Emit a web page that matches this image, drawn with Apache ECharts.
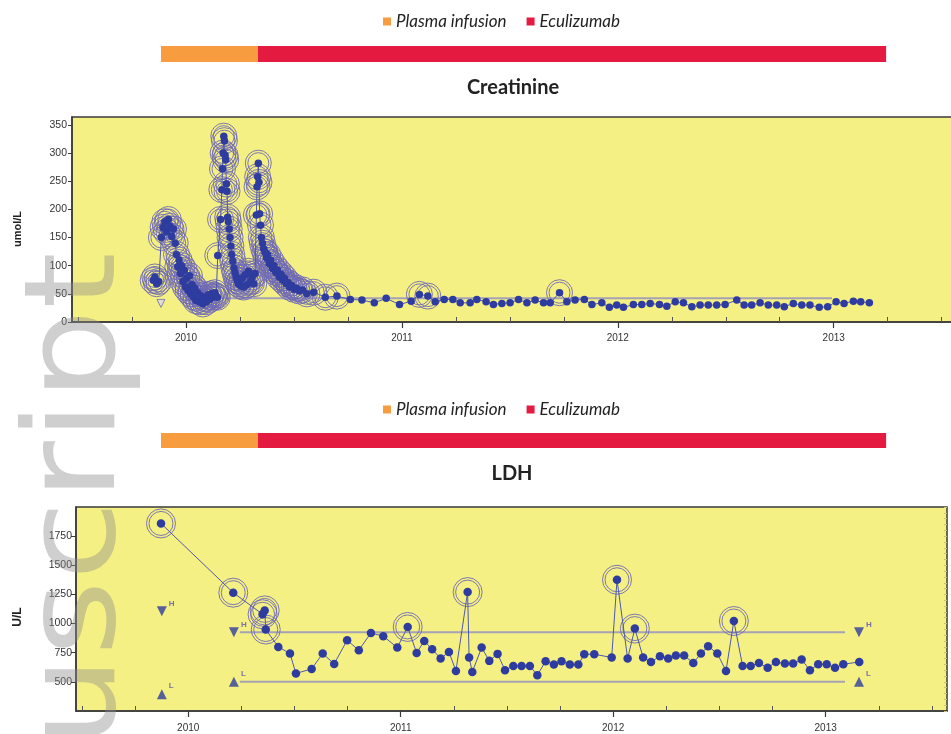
<!DOCTYPE html>
<html><head><meta charset="utf-8">
<script src="https://cdn.jsdelivr.net/npm/echarts@6/dist/echarts.min.js"></script>
<style>html,body{margin:0;padding:0;background:#fff}#c{width:951px;height:734px}</style>
</head><body><div id="c"></div>
<script>
// ---------- data ----------
const treatNames = ['Plasma infusion', 'Eculizumab'];
const treatColors = ['#f89d3f', '#e51a40'];
const treatStart = [2009.884, 2010.333];
const treatEnd = [2010.333, 2013.241];

const xMin = 2009.472, xMax = 2013.571;
const xYearTicks = [2010, 2011, 2012, 2013];
const xQuarterTicks = [2009.5, 2009.75, 2010.25, 2010.5, 2010.75, 2011.25, 2011.5, 2011.75,
  2012.25, 2012.5, 2012.75, 2013.25, 2013.5];
const creatTicks = [0, 50, 100, 150, 200, 250, 300, 350];
const ldhTicks = [500, 750, 1000, 1250, 1500, 1750];

// Creatinine (umol/L): [decimal year, value]
const creatinine = [
  [2009.848,74],[2009.856,80],[2009.864,68],[2009.874,72],[2009.886,150],[2009.894,168],[2009.902,178],
  [2009.910,160],[2009.918,182],[2009.926,170],[2009.934,152],[2009.942,165],[2009.950,140],[2009.956,120],
  [2009.962,98],[2009.968,110],[2009.974,86],[2009.980,100],[2009.986,72],[2009.992,92],[2009.998,62],
  [2010.004,78],[2010.010,56],[2010.016,82],[2010.022,50],[2010.028,66],[2010.034,45],[2010.040,60],
  [2010.046,38],[2010.054,52],[2010.062,36],[2010.070,46],[2010.078,32],[2010.086,42],[2010.094,36],
  [2010.102,48],[2010.110,40],[2010.118,50],[2010.126,44],[2010.134,52],[2010.140,46],[2010.145,44],
  [2010.147,118],[2010.160,182],[2010.166,235],[2010.169,272],[2010.172,300],[2010.175,330],[2010.178,322],
  [2010.181,296],[2010.184,288],[2010.187,245],[2010.190,232],[2010.193,186],[2010.196,178],[2010.200,165],
  [2010.204,150],[2010.208,135],[2010.212,120],[2010.217,108],[2010.222,96],[2010.227,88],[2010.232,80],
  [2010.237,74],[2010.242,68],[2010.248,72],[2010.254,64],[2010.260,78],[2010.267,62],[2010.274,84],
  [2010.282,66],[2010.290,90],[2010.298,72],[2010.306,80],[2010.314,68],[2010.320,86],
  [2010.326,190],[2010.329,240],[2010.332,258],[2010.335,282],[2010.338,248],[2010.341,192],[2010.345,172],
  [2010.349,150],[2010.354,140],[2010.360,130],[2010.366,124],[2010.372,114],[2010.378,120],[2010.385,104],
  [2010.392,110],[2010.400,95],[2010.408,100],[2010.416,88],[2010.424,92],[2010.432,80],[2010.440,85],
  [2010.448,74],[2010.456,78],[2010.464,68],[2010.472,70],[2010.480,62],[2010.490,65],[2010.500,58],
  [2010.512,60],[2010.525,55],[2010.540,57],[2010.560,50],
  [2010.591,53],[2010.645,44],[2010.699,46],[2010.761,40],[2010.815,39],[2010.872,34],[2010.927,42],
  [2010.989,31],[2011.043,37],[2011.081,49],[2011.120,46],[2011.154,36],[2011.196,40],[2011.236,40],
  [2011.270,34],[2011.316,34],[2011.347,40],[2011.390,36],[2011.424,31],[2011.463,33],[2011.501,34],
  [2011.540,40],[2011.579,34],[2011.617,39],[2011.656,34],[2011.687,34],[2011.730,52],[2011.764,36],
  [2011.802,39],[2011.845,40],[2011.880,31],[2011.926,34],[2011.961,26],[2011.995,30],[2012.026,26],
  [2012.072,31],[2012.111,31],[2012.150,33],[2012.193,31],[2012.227,28],[2012.266,36],[2012.304,34],
  [2012.343,27],[2012.381,30],[2012.419,30],[2012.458,30],[2012.497,31],[2012.551,39],[2012.585,30],
  [2012.620,30],[2012.659,34],[2012.697,30],[2012.736,30],[2012.771,27],[2012.813,33],[2012.852,30],
  [2012.890,30],[2012.933,26],[2012.972,27],[2013.011,36],[2013.048,33],[2013.091,37],[2013.125,36],
  [2013.165,34]
];
const creatRefH = [[2010.144, 42], [2012.992, 42]];
const creatMarkH = [[2009.884, 33]];

// LDH (U/L): [decimal year, value]
const ldh = [
  [2009.872,1859],[2010.212,1265],[2010.350,1080],[2010.360,1113],[2010.365,949],[2010.424,800],
  [2010.479,743],[2010.507,572],[2010.581,611],[2010.633,743],[2010.687,654],[2010.748,857],[2010.803,771],
  [2010.860,920],[2010.918,892],[2010.984,794],[2011.033,971],[2011.075,748],[2011.111,851],[2011.148,780],
  [2011.188,700],[2011.227,757],[2011.260,594],[2011.315,1270],[2011.322,709],[2011.337,585],[2011.381,794],
  [2011.417,680],[2011.456,740],[2011.491,600],[2011.530,637],[2011.569,637],[2011.608,637],[2011.643,557],
  [2011.682,677],[2011.721,648],[2011.757,677],[2011.796,648],[2011.836,648],[2011.864,737],[2011.911,737],
  [2011.993,709],[2012.018,1376],[2012.068,700],[2012.102,957],[2012.141,709],[2012.178,671],[2012.220,720],
  [2012.259,700],[2012.295,726],[2012.334,726],[2012.377,662],[2012.413,743],[2012.447,806],[2012.490,743],
  [2012.531,594],[2012.568,1022],[2012.609,637],[2012.647,637],[2012.686,662],[2012.727,620],[2012.766,671],
  [2012.808,657],[2012.847,657],[2012.887,691],[2012.926,600],[2012.965,651],[2013.005,651],[2013.044,620],
  [2013.083,651],[2013.158,671]
];
const ldhRefH = [[2010.243, 925], [2013.091, 925]];
const ldhRefL = [[2010.243, 500], [2013.091, 500]];
const ldhMarkH = [[2009.876, 1105], [2010.215, 925], [2013.157, 925]];
const ldhMarkL = [[2009.876, 394], [2010.215, 500], [2013.157, 500]];

// ---------- styles ----------
const YELLOW = '#f5f083';
const DOT = '#2e3c9f';
const LINE = '#4e58ad';
const RING = '#6f69b6';
const REF = '#a4a2b4';
const FRAME = '#3a3a3a';
const AXFONT = 'Liberation Sans';

const chart = echarts.init(document.getElementById('c'), null, {renderer: 'canvas'});

const grids = [
  {left: 72, top: 117, width: 885, height: 205, show: true, backgroundColor: YELLOW, borderColor: FRAME, borderWidth: 1.5, outerBoundsMode: 'none', containLabel: false},
  {left: 76, top: 507, width: 871, height: 204, show: true, backgroundColor: YELLOW, borderColor: FRAME, borderWidth: 1.5, outerBoundsMode: 'none', containLabel: false},
  {left: 72, top: 46, width: 885, height: 16, show: false, outerBoundsMode: 'none'},
  {left: 72, top: 433, width: 885, height: 15, show: false, outerBoundsMode: 'none'}
];

function majorX(grid) {
  return {type: 'value', gridIndex: grid, min: xMin, max: xMax, position: 'bottom',
    splitLine: {show: false},
    axisLine: {show: true, lineStyle: {color: FRAME, width: 1.5}},
    axisTick: {show: true, inside: false, length: 6, customValues: xYearTicks, lineStyle: {color: FRAME, width: 1.2}},
    axisLabel: {show: true, customValues: xYearTicks, margin: grid === 0 ? 11 : 12, fontSize: 10, fontFamily: AXFONT, color: '#333',
      formatter: v => String(Math.round(v))}};
}
function minorX(grid) {
  return {type: 'value', gridIndex: grid, min: xMin, max: xMax, position: 'bottom',
    splitLine: {show: false}, axisLine: {show: false},
    axisTick: {show: true, inside: true, length: 5, customValues: xQuarterTicks, lineStyle: {color: '#555', width: 1}},
    axisLabel: {show: false}};
}
function hiddenX(grid) {
  return {type: 'value', gridIndex: grid, min: xMin, max: xMin + 885 / 216, show: false};
}

const plainNum = v => String(v);
const xAxis = [majorX(0), minorX(0), majorX(1), minorX(1), hiddenX(2), hiddenX(3)];
const yAxis = [
  {type: 'value', gridIndex: 0, min: 0, max: 364, splitLine: {show: false},
    axisLine: {show: true, lineStyle: {color: FRAME, width: 1.5}},
    axisTick: {show: true, length: 4, customValues: creatTicks, lineStyle: {color: FRAME}},
    axisLabel: {customValues: creatTicks, margin: 5, fontSize: 10.5, fontFamily: AXFONT, color: '#333', formatter: plainNum}},
  {type: 'value', gridIndex: 0, min: 0, max: 364, interval: 7, splitLine: {show: false}, axisLine: {show: false},
    axisTick: {show: true, inside: true, length: 3, lineStyle: {color: '#c9c37a', width: 1}}, axisLabel: {show: false}},
  {type: 'value', gridIndex: 1, min: 250, max: 2000, splitLine: {show: false},
    axisLine: {show: true, lineStyle: {color: FRAME, width: 1.5}},
    axisTick: {show: true, length: 5, customValues: ldhTicks, lineStyle: {color: FRAME}},
    axisLabel: {customValues: ldhTicks, margin: 4, fontSize: 10.5, fontFamily: AXFONT, color: '#333', formatter: plainNum}},
  {type: 'value', gridIndex: 1, min: 250, max: 2000, interval: 50, splitLine: {show: false}, axisLine: {show: false},
    axisTick: {show: true, inside: true, length: 3, lineStyle: {color: '#c9c37a', width: 1}}, axisLabel: {show: false}},
  {type: 'value', gridIndex: 2, min: 0, max: 1, show: false},
  {type: 'value', gridIndex: 3, min: 0, max: 1, show: false}
];

function treatSeries(i, axisIdx) {
  return {
    type: 'custom', name: treatNames[i], xAxisIndex: axisIdx, yAxisIndex: axisIdx,
    itemStyle: {color: treatColors[i]}, encode: {x: [0, 1]},
    data: [[treatStart[i], treatEnd[i]]],
    renderItem: (params, api) => {
      const a = api.coord([api.value(0), 1]);
      const b = api.coord([api.value(1), 0]);
      return {type: 'rect', shape: {x: a[0], y: a[1], width: b[0] - a[0], height: b[1] - a[1]},
        style: {fill: treatColors[i]}};
    }
  };
}

function ringSeries(data, xi, yi, size) {
  return {type: 'scatter', xAxisIndex: xi, yAxisIndex: yi, data, symbol: 'circle', symbolSize: size, z: 3,
    silent: true, itemStyle: {color: 'rgba(0,0,0,0)', borderColor: RING, borderWidth: 1, opacity: 0.9}};
}

function markSeries(data, xi, yi, label, down) {
  return {type: 'scatter', xAxisIndex: xi, yAxisIndex: yi, data, symbol: 'triangle', symbolRotate: down ? 180 : 0,
    symbolSize: 10, z: 5, itemStyle: {color: DOT},
    label: {show: true, formatter: label, position: 'right', offset: [-3, -8], fontSize: 8, fontWeight: 'bold',
      color: '#5b4fb0', fontFamily: AXFONT}};
}

const creatRing = creatinine.filter(d => d[0] < 2010.58 || d[1] >= 43);
const ldhRing = ldh.filter(d => d[1] > 925);

const series = [
  treatSeries(0, 4), treatSeries(1, 4), treatSeries(0, 5), treatSeries(1, 5),
  // creatinine
  {type: 'line', xAxisIndex: 0, yAxisIndex: 0, data: creatRefH, symbol: 'none', z: 2,
    lineStyle: {color: REF, width: 2}},
  ringSeries(creatRing, 0, 0, 26), ringSeries(creatRing, 0, 0, 21),
  {type: 'line', xAxisIndex: 0, yAxisIndex: 0, data: creatinine, symbol: 'circle', symbolSize: 7.5, z: 4,
    itemStyle: {color: DOT}, lineStyle: {color: LINE, width: 1}},
  {type: 'scatter', xAxisIndex: 0, yAxisIndex: 0, data: creatMarkH, symbol: 'triangle', symbolRotate: 180,
    symbolSize: 8, z: 5, itemStyle: {color: '#d9d9e6', borderColor: '#6f6fae', borderWidth: 1}},
  // LDH
  {type: 'line', xAxisIndex: 2, yAxisIndex: 2, data: ldhRefH, symbol: 'none', z: 2, lineStyle: {color: REF, width: 2}},
  {type: 'line', xAxisIndex: 2, yAxisIndex: 2, data: ldhRefL, symbol: 'none', z: 2, lineStyle: {color: REF, width: 2}},
  ringSeries(ldhRing, 2, 2, 29), ringSeries(ldhRing, 2, 2, 24),
  {type: 'line', xAxisIndex: 2, yAxisIndex: 2, data: ldh, symbol: 'circle', symbolSize: 8.5, z: 4,
    itemStyle: {color: DOT}, lineStyle: {color: LINE, width: 1}},
  markSeries(ldhMarkH, 2, 2, 'H', true),
  markSeries(ldhMarkL, 2, 2, 'L', false)
];

const legendStyle = {fontFamily: 'Lato', fontStyle: 'italic', fontSize: 17, color: '#222'};
const legends = [
  {data: treatNames, left: 378, top: 8, icon: 'rect', itemWidth: 8, itemHeight: 8, itemGap: 20,
    selectedMode: false, textStyle: legendStyle},
  {data: treatNames, left: 378, top: 396, icon: 'rect', itemWidth: 8, itemHeight: 8, itemGap: 20,
    selectedMode: false, textStyle: legendStyle}
];

const graphic = [
  {type: 'text', x: 513, y: 88, z: 10, style: {text: 'Creatinine', font: 'bold 20px Lato', fill: '#222',
    textAlign: 'center', textVerticalAlign: 'middle'}},
  {type: 'text', x: 512, y: 474, z: 10, style: {text: 'LDH', font: 'bold 20px Lato', fill: '#222',
    textAlign: 'center', textVerticalAlign: 'middle'}},
  {type: 'text', x: 18, y: 229, rotation: Math.PI / 2, z: 10, style: {text: 'umol/L', font: 'bold 11px ' + AXFONT,
    fill: '#222', textAlign: 'center', textVerticalAlign: 'middle'}},
  {type: 'text', x: 18, y: 617, rotation: Math.PI / 2, z: 10, style: {text: 'U/L', font: 'bold 12px ' + AXFONT,
    fill: '#222', textAlign: 'center', textVerticalAlign: 'middle'}},
  {type: 'text', x: 81, y: 748, rotation: Math.PI / 2, scaleY: 0.87, z: 100, silent: true,
    style: {text: 'uscript', font: '145px "DejaVu Sans"', fill: 'rgba(140,140,140,0.42)',
      textAlign: 'left', textVerticalAlign: 'middle'}}
];

chart.setOption({
  animation: false,
  grid: grids, xAxis, yAxis, series, legend: legends, graphic
});
</script></body></html>
